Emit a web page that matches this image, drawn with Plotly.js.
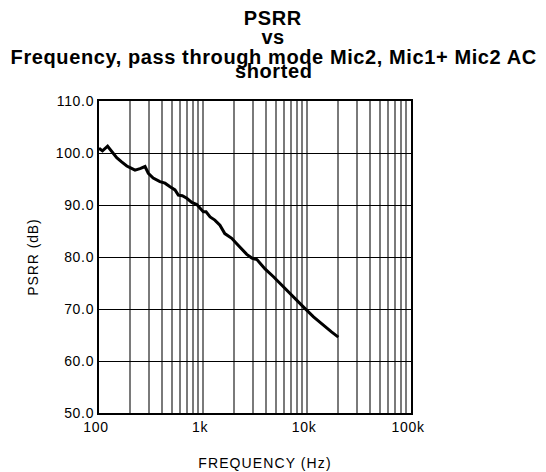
<!DOCTYPE html>
<html><head><meta charset="utf-8">
<script src="https://cdn.plot.ly/plotly-3.0.1.min.js"></script>
<style>
body{margin:0;background:#fff}
#c{width:546px;height:472px}
#c .xtick text, #c .ytick text{letter-spacing:0.7px}
#c .ytitle{letter-spacing:0.9px}
#c .annotation-text.t-title{letter-spacing:0.6px}
#c .annotation-text.t-axis{letter-spacing:1.1px}
</style>
</head><body><div id="c"></div>
<script>
const freqHz = [100,108,121,133,148,165,185,199,222,248,277,298,332,385,431,482,538,579,633,698,780,872,956,1006,1070,1170,1300,1455,1620,1890,2100,2360,2635,2950,3300,3540,3950,4760,5870,7370,9220,11550,14300,17200,20000];
const psrrDb = [100.9,100.4,101.3,100.2,99.1,98.3,97.5,97.2,96.7,97.0,97.4,96.1,95.2,94.5,94.2,93.5,92.9,91.9,91.8,91.3,90.5,90.1,89.3,88.7,88.7,87.7,87.1,86.1,84.5,83.6,82.6,81.6,80.5,79.8,79.5,78.8,77.7,76.2,74.3,72.3,70.4,68.5,66.9,65.6,64.6];
const xTickVals = [100,200,300,400,500,600,700,800,900,1000,2000,3000,4000,5000,6000,7000,8000,9000,10000,20000,30000,40000,50000,60000,70000,80000,90000,100000];
const xTickText = ["100","","","","","","","","","1k","","","","","","","","","10k","","","","","","","","","100k"];
const yTickVals = [50,60,70,80,90,100,110];
const yTickText = ["50.0","60.0","70.0","80.0","90.0","100.0","110.0"];
const titleLines = ["PSRR","vs","Frequency, pass through mode Mic2, Mic1+ Mic2 AC","shorted"];
const xTitle = "FREQUENCY (Hz)";
const yTitle = "PSRR (dB)";

const FAM = "Liberation Sans, Arial, sans-serif";
const font = {family: FAM, size: 14, color: "#000"};
const titleFont = {family: FAM, size: 20, color: "#000", weight: "bold"};
// plot area: top 101px, bottom 413px (height 312)
const lineCentersPx = [18.1, 37.4, 56.6, 71.0];
const annotations = titleLines.map((t, i) => ({
  text: t, xref: "paper", yref: "paper",
  x: (273 - 99) / 312, y: (413 - lineCentersPx[i]) / 312,
  xanchor: "center", yanchor: "middle", showarrow: false,
  font: titleFont
}));
annotations.push({
  text: xTitle, xref: "paper", yref: "paper",
  x: (265 - 99) / 312, y: (413 - 462.5) / 312,
  xanchor: "center", yanchor: "middle", showarrow: false, font: font
});

Plotly.newPlot("c", [{
  x: freqHz, y: psrrDb, type: "scatter", mode: "lines",
  line: {color: "#000", width: 3}
}], {
  width: 546, height: 472,
  margin: {l: 99, r: 135, t: 101, b: 59},
  paper_bgcolor: "#fff", plot_bgcolor: "#fff",
  showlegend: false,
  font: font,
  annotations: annotations,
  xaxis: {
    type: "log", range: [2, 5],
    tickvals: xTickVals, ticktext: xTickText,
    showgrid: true, gridcolor: "#7a7a7a", gridwidth: 2,
    showline: true, linecolor: "#000", linewidth: 2, mirror: true,
    ticks: "", zeroline: false, ticklabelshift: -3,
    tickfont: font
  },
  yaxis: {
    range: [50, 110],
    tickvals: yTickVals, ticktext: yTickText,
    showgrid: true, gridcolor: "#000", gridwidth: 1,
    showline: true, linecolor: "#000", linewidth: 2, mirror: true,
    ticks: "", zeroline: false,
    tickfont: font,
    title: {text: yTitle, font: font, standoff: 17}
  }
}, {displayModeBar: false, staticPlot: true}).then(() => {
  const nodes = document.querySelectorAll("#c .annotation-text");
  nodes.forEach((n, i) => n.classList.add(i < titleLines.length ? "t-title" : "t-axis"));
});
</script></body></html>
